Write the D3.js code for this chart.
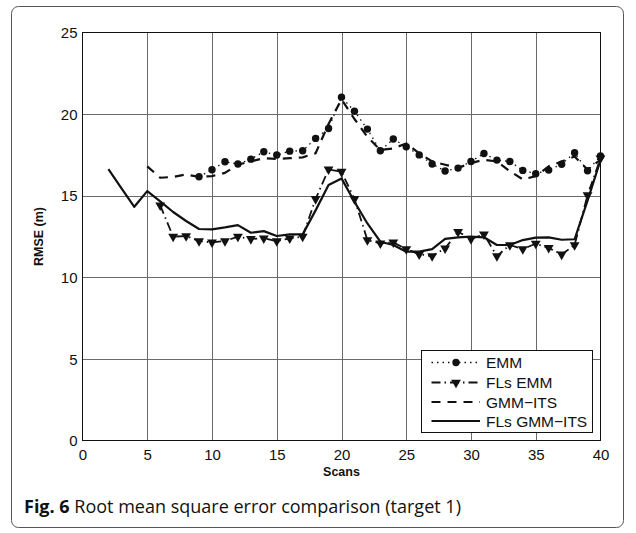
<!DOCTYPE html>
<html>
<head>
<meta charset="utf-8">
<script src="https://cdn.jsdelivr.net/npm/d3@7"></script>
<style>
  html, body { margin: 0; padding: 0; background: #fff; }
  svg { display: block; }
</style>
</head>
<body>
<svg id="chart" width="636" height="533"></svg>
<script>
// ---- data ----
const xTicks = [0, 5, 10, 15, 20, 25, 30, 35, 40];
const yTicks = [0, 5, 10, 15, 20, 25];

const emmX = d3.range(9, 41);
const emmY = [16.16, 16.59, 17.08, 16.94, 17.24, 17.69, 17.49, 17.73, 17.75, 18.51,
              19.12, 21.04, 20.18, 19.08, 17.75, 18.47, 18.0, 17.5, 16.94, 16.51,
              16.69, 17.1, 17.59, 17.18, 17.1, 16.55, 16.35, 16.57, 16.93, 17.63,
              16.53, 17.43];

const flsEmmX = d3.range(6, 41);
const flsEmmY = [14.41, 12.49, 12.53, 12.22, 12.14, 12.22, 12.49, 12.35, 12.39, 12.22,
                 12.39, 12.49, 14.8, 16.61, 16.47, 14.8, 12.28, 12.08, 12.14, 11.73,
                 11.41, 11.3, 11.77, 12.79, 12.35, 12.63, 11.3, 11.98, 11.73, 12.06,
                 11.8, 11.4, 11.98, 15.04, 17.29];

const gmmX = d3.range(5, 41);
const gmmY = [16.8, 16.1, 16.15, 16.3, 16.15, 16.2, 16.4, 16.9, 17.1, 17.3,
              17.25, 17.3, 17.35, 17.6, 19.4, 20.9, 19.7, 18.6, 17.8, 17.9,
              18.2, 17.6, 17.1, 16.9, 16.7, 17.0, 17.2, 17.1, 16.5, 16.0,
              16.2, 16.8, 17.1, 17.4, 16.6, 17.2];

const flsGmmX = d3.range(2, 41);
const flsGmmY = [16.63, 15.47, 14.32, 15.28, 14.65, 14.0, 13.45, 12.96, 12.94, 13.06,
                 13.2, 12.73, 12.83, 12.53, 12.63, 12.63, 14.1, 15.65, 16.06, 14.63,
                 13.3, 12.18, 11.98, 11.57, 11.57, 11.73, 12.35, 12.45, 12.49, 12.45,
                 11.98, 11.98, 12.28, 12.43, 12.45, 12.3, 12.33, 14.7, 17.18];

const legendLabels = ["EMM", "FLs EMM", "GMM\u2212ITS", "FLs GMM\u2212ITS"];
const xLabel = "Scans";
const yLabel = "RMSE (m)";
const captionBold = "Fig. 6";
const captionText = " Root mean square error comparison (target 1)";

// ---- layout ----
const svg = d3.select("#chart");
const L = 82.5, R = 600.5, T = 32.5, B = 440.5;
const x = d3.scaleLinear().domain([0, 40]).range([L, R]);
const y = d3.scaleLinear().domain([0, 25]).range([B, T]);
const ink = "#111";
const axisFont = "'Liberation Sans', Arial, sans-serif";

// card
svg.append("rect").attr("x", 11.5).attr("y", 6.5).attr("width", 612).attr("height", 521)
  .attr("rx", 7).attr("fill", "#fff").attr("stroke", "#555").attr("stroke-width", 1);

// grid
const g = svg.append("g");
g.selectAll("line.gx").data(xTicks.slice(1, -1)).join("line")
  .attr("x1", d => Math.round(x(d)) + 0.5).attr("x2", d => Math.round(x(d)) + 0.5)
  .attr("y1", T).attr("y2", B).attr("stroke", "#6a6a6a").attr("stroke-width", 1);
g.selectAll("line.gy").data(yTicks.slice(1, -1)).join("line")
  .attr("y1", d => Math.round(y(d)) + 0.5).attr("y2", d => Math.round(y(d)) + 0.5)
  .attr("x1", L).attr("x2", R).attr("stroke", "#6a6a6a").attr("stroke-width", 1);

// axes via d3
const xAxis = d3.axisBottom(x).tickValues(xTicks).tickSize(0).tickPadding(9);
const yAxis = d3.axisLeft(y).tickValues(yTicks).tickSize(0).tickPadding(5);
const gx = svg.append("g").attr("transform", `translate(0,${B})`).call(xAxis);
const gy = svg.append("g").attr("transform", `translate(${L},0)`).call(yAxis);
[gx, gy].forEach(a => {
  a.select(".domain").remove();
  a.selectAll("text").attr("font-family", axisFont).attr("font-size", 15).attr("fill", ink);
});
gy.selectAll("text").attr("dy", "0.35em");

// frame
svg.append("rect").attr("x", L).attr("y", T).attr("width", R - L).attr("height", B - T)
  .attr("fill", "none").attr("stroke", ink).attr("stroke-width", 1);

// axis titles
svg.append("text").attr("x", x(20)).attr("y", 476).attr("text-anchor", "middle")
  .attr("font-family", axisFont).attr("font-weight", "bold").attr("font-size", 12.5)
  .attr("fill", ink).text(xLabel);
svg.append("text").attr("transform", `translate(43,${y(12.5)}) rotate(-90)`)
  .attr("text-anchor", "middle").attr("font-family", axisFont).attr("font-weight", "bold")
  .attr("font-size", 12.5).attr("fill", ink).text(yLabel);

// series
const line = d3.line().x(d => x(d[0])).y(d => y(d[1]));
const zip = (xs, ys) => xs.map((v, i) => [v, ys[i]]);
const series = [
  { pts: zip(emmX, emmY), dash: "1.5,4", width: 1.3, marker: "circle" },
  { pts: zip(flsEmmX, flsEmmY), dash: "9,4,1.5,4", width: 1.8, marker: "tri" },
  { pts: zip(gmmX, gmmY), dash: "9,7", width: 2.2, marker: null },
  { pts: zip(flsGmmX, flsGmmY), dash: null, width: 2.2, marker: null }
];
const plot = svg.append("g");
series.forEach(s => {
  plot.append("path").datum(s.pts).attr("d", line).attr("fill", "none")
    .attr("stroke", ink).attr("stroke-width", s.width)
    .attr("stroke-dasharray", s.dash).attr("stroke-linejoin", "round");
});
const tri = d3.symbol().type(d3.symbolTriangle).size(42);
function drawMarker(sel, type, cx, cy) {
  if (type === "circle") {
    sel.append("circle").attr("cx", cx).attr("cy", cy).attr("r", 3.7).attr("fill", ink);
  } else if (type === "tri") {
    sel.append("path").attr("d", tri()).attr("transform", `translate(${cx},${cy}) rotate(180)`)
      .attr("fill", ink);
  }
}
series.forEach(s => {
  if (!s.marker) return;
  s.pts.forEach(p => drawMarker(plot, s.marker, x(p[0]), y(p[1])));
});

// legend
const lg = svg.append("g");
lg.append("rect").attr("x", 421.5).attr("y", 350.5).attr("width", 171).attr("height", 82)
  .attr("fill", "#fff").attr("stroke", ink).attr("stroke-width", 1);
const rowsY = [362.5, 382.5, 402, 421];
series.forEach((s, i) => {
  lg.append("line").attr("x1", 431.5).attr("x2", 480).attr("y1", rowsY[i]).attr("y2", rowsY[i])
    .attr("stroke", ink).attr("stroke-width", s.width).attr("stroke-dasharray", s.dash);
  if (s.marker) drawMarker(lg, s.marker, 456, rowsY[i]);
  lg.append("text").attr("x", 486).attr("y", rowsY[i]).attr("dy", "0.36em")
    .attr("font-family", axisFont).attr("font-size", 15.5).attr("fill", ink)
    .text(legendLabels[i]);
});

// caption
const cap = svg.append("text").attr("x", 24).attr("y", 513)
  .attr("font-family", "'Open Sans', 'Noto Sans', sans-serif").attr("font-size", 18).attr("fill", ink);
cap.append("tspan").attr("font-weight", "bold").text(captionBold);
cap.append("tspan").attr("font-weight", "normal").text(captionText);
</script>
</body>
</html>
